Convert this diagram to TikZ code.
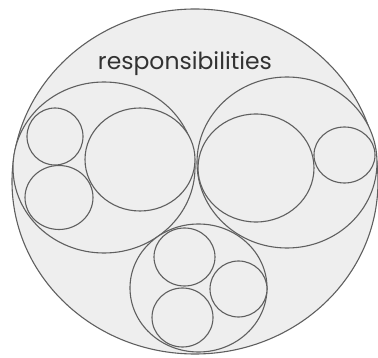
\documentclass[tikz,border=0pt]{standalone}
\usepackage{fontspec}
\setmainfont{Poppins}
\usepackage{xcolor}
\usepackage{tikz}
\usetikzlibrary{shapes.geometric}
\definecolor{BubbleFill}{RGB}{238,238,238}
\definecolor{BubbleLine}{RGB}{95,95,95}
\definecolor{LabelGray}{RGB}{50,50,50}
\tikzset{
  bubble/.style={ellipse, draw=BubbleLine, fill=BubbleFill, line width=1.1pt, inner sep=0pt},
  title/.style={font=\fontsize{23.5}{27}\selectfont, text=LabelGray, inner sep=0pt},
}

\begin{document}
\begin{tikzpicture}[x=1pt, y=-1pt]
  \useasboundingbox (0,0) rectangle (378,358);
  % outer circle
  \node[bubble, minimum width=366pt, minimum height=345pt] (outer) at (195,181.5) {};
  \node[title] (label) at (185,64) {responsibilities};
  % left group
  \node[bubble, minimum width=182pt, minimum height=171pt] (left) at (104,167.5) {};
  \node[bubble, minimum width=56pt, minimum height=57pt] (lefta) at (55,136.5) {};
  \node[bubble, minimum width=68pt, minimum height=64pt] (leftb) at (59,197.5) {};
  \node[bubble, minimum width=110pt, minimum height=103pt] (leftc) at (140,159.5) {};
  % right group
  \node[bubble, minimum width=180pt, minimum height=171pt] (right) at (287,162.5) {};
  \node[bubble, minimum width=116pt, minimum height=108pt] (righta) at (256,168) {};
  \node[bubble, minimum width=61pt, minimum height=56pt] (rightb) at (344.5,155) {};
  % bottom group
  \node[bubble, minimum width=137pt, minimum height=128pt] (bottom) at (198.5,288) {};
  \node[bubble, minimum width=61pt, minimum height=58pt] (bottoma) at (184.5,257) {};
  \node[bubble, minimum width=57pt, minimum height=56pt] (bottomb) at (238.5,289) {};
  \node[bubble, minimum width=61pt, minimum height=59pt] (bottomc) at (182.5,317.5) {};
\end{tikzpicture}
\end{document}
